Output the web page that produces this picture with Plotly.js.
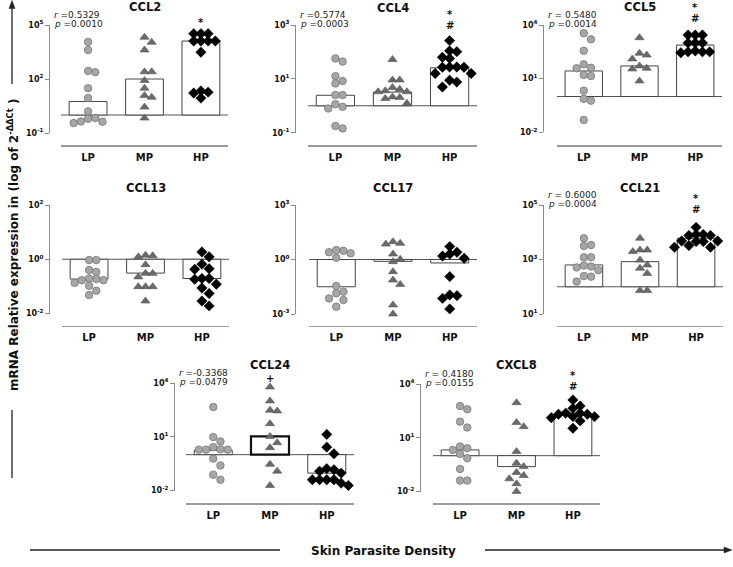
<!DOCTYPE html>
<html><head><meta charset="utf-8">
<script src="https://cdn.plot.ly/plotly-3.0.1.min.js"></script>
<style>html,body{margin:0;padding:0;background:#fff}#chart{width:733px;height:567px}</style>
</head><body><div id="chart"></div>
<script>
// ---------- DATA (log10 of relative expression 2^-ΔΔCt) ----------
const groups = ['LP', 'MP', 'HP'];

const ccl2_LP = [4.06, 3.61, 2.38, 2.45, 1.49, 0.94, 0.20, -0.36, -0.17, -0.45, -0.21, -0.37];
const ccl2_MP = [4.32, 4.04, 3.61, 2.40, 2.40, 1.92, 1.49, 0.99, 1.08, 0.44, -0.17];
const ccl2_HP = [4.52, 4.52, 4.52, 4.11, 4.11, 4.11, 4.11, 3.49, 1.22, 0.94, 1.27, 1.34];
const ccl2_bar = [0.75, 2.0, 4.11];

const ccl4_LP = [1.76, 1.64, 1.10, 0.92, 0.83, 0.40, 0.40, -0.04, -0.10, 0.06, -0.84, -0.75];
const ccl4_MP = [1.72, 0.96, 0.96, 0.61, 0.56, 0.52, 0.52, 0.68, 0.31, 0.33, 0.27, 0.09];
const ccl4_HP = [2.42, 2.04, 2.01, 1.80, 1.76, 1.44, 1.44, 1.43, 1.43, 1.20, 1.20, 0.95, 0.88, 0.70];
const ccl4_bar = [0.39, 0.51, 1.41];

const ccl5_LP = [3.54, 3.20, 2.56, 1.80, 1.58, 1.61, 1.21, 1.15, 0.33, -0.13, -0.23, -1.31];
const ccl5_MP = [3.29, 2.42, 2.32, 2.10, 1.71, 1.54, 1.58, 0.87];
const ccl5_HP = [3.44, 3.44, 3.44, 3.00, 3.00, 3.00, 2.55, 2.50, 2.50, 2.50, 2.45];
const ccl5_bar = [1.43, 1.71, 2.88];

const ccl13_LP = [-0.03, -0.03, -0.47, -0.40, -0.77, -0.87, -0.71, -0.77, -0.73, -0.98, -1.16, -1.32];
const ccl13_MP = [0.15, 0.09, 0.13, -0.20, -0.52, -0.65, -0.52, -1.01, -1.01, -1.01, -1.54];
const ccl13_HP = [0.27, 0.09, -0.18, -0.35, -0.37, -0.71, -0.74, -0.71, -1.06, -0.92, -1.26, -1.72, -1.54];
const ccl13_bar = [-0.73, -0.51, -0.71];

const ccl17_LP = [0.48, 0.34, 0.52, 0.40, 0.10, -1.46, -1.86, -1.77, -2.14, -2.23, -2.60];
const ccl17_MP = [0.98, 0.85, 0.89, 0.30, -0.12, 0.01, -0.67, -1.13, -1.37, -2.50, -3.00];
const ccl17_HP = [0.71, 0.40, 0.19, 0.07, 0.30, -0.94, -1.99, -2.14, -1.95, -2.72];
const ccl17_bar = [-1.50, -0.10, -0.19];

const ccl21_LP = [3.78, 3.53, 3.50, 3.08, 3.08, 2.78, 2.71, 2.61, 2.74, 2.37, 2.39, 2.19];
const ccl21_MP = [3.78, 3.35, 3.29, 3.35, 2.98, 2.80, 2.68, 2.49, 1.86, 1.86];
const ccl21_HP = [4.18, 3.92, 3.88, 3.88, 3.92, 3.66, 3.68, 3.68, 3.66, 3.45, 3.45, 3.51];
const ccl21_bar = [2.80, 2.92, 3.78];

const ccl24_LP = [2.66, 0.98, 0.74, 0.42, 0.28, 0.28, 0.28, 0.30, -0.22, -0.60, -1.12, -1.40];
const ccl24_MP = [3.78, 3.00, 2.48, 2.44, 1.73, 1.02, 0.39, 0.67, -0.54, -0.92, -1.72];
const ccl24_HP = [1.13, 0.42, 0.05, -0.78, -0.92, -1.03, -0.84, -1.40, -1.40, -1.40, -1.40, -1.72, -1.59];
const ccl24_bar = [0.24, 1.02, -1.03];

const cxcl8_LP = [2.77, 2.59, 1.90, 1.57, 0.51, 0.42, 0.32, 0.10, -0.14, -0.74, -1.39, -1.39];
const cxcl8_MP = [2.96, 1.85, 1.62, 0.23, -0.42, -0.61, -0.94, -1.11, -1.29, -1.57, -2.00];
const cxcl8_HP = [3.11, 2.77, 2.64, 2.37, 2.31, 2.31, 2.37, 2.18, 2.12, 2.18, 1.94, 1.53];
const cxcl8_bar = [0.32, -0.61, 2.27];

// tick exponents (low, mid, high) per gene
const ticks_ccl2 = [-1, 2, 5], ticks_ccl4 = [-1, 1, 3], ticks_ccl5 = [-2, 1, 4], ticks_ccl13 = [-2, 0, 2];
const ticks_ccl17 = [-3, 0, 3], ticks_ccl21 = [1, 3, 5], ticks_ccl24 = [-2, 1, 4], ticks_cxcl8 = [-2, 1, 4];

// ---------- PANELS ----------
const panels = [
  {name:'CCL2',  LP:ccl2_LP,  MP:ccl2_MP,  HP:ccl2_HP,  bar:ccl2_bar,  base:0, t:ticks_ccl2,  r:'=0.5329', p:'=0.0010', marks:{g:2, m:['*']},
   L:{ax:49, yt:25, yb:133, xl:145, x0:61, x1:228, title:7, mk:[19]}},
  {name:'CCL4',  LP:ccl4_LP,  MP:ccl4_MP,  HP:ccl4_HP,  bar:ccl4_bar,  base:0, t:ticks_ccl4,  r:'=0.5774', p:'=0.0003', marks:{g:2, m:['*','#']},
   L:{ax:295, yt:25, yb:132.7, xl:145, x0:308, x1:477, title:8, mk:[11,24]}},
  {name:'CCL5',  LP:ccl5_LP,  MP:ccl5_MP,  HP:ccl5_HP,  bar:ccl5_bar,  base:0, t:ticks_ccl5,  r:'= 0.5480', p:'=0.0014', marks:{g:2, m:['*','#']},
   L:{ax:543, yt:25, yb:132.3, xl:145, x0:557, x1:722, title:7, mk:[4,17]}},
  {name:'CCL13', LP:ccl13_LP, MP:ccl13_MP, HP:ccl13_HP, bar:ccl13_bar, base:0, t:ticks_ccl13, r:null, p:null, marks:null,
   L:{ax:49, yt:205, yb:313.5, xl:325.7, x0:62, x1:229, title:188}},
  {name:'CCL17', LP:ccl17_LP, MP:ccl17_MP, HP:ccl17_HP, bar:ccl17_bar, base:0, t:ticks_ccl17, r:null, p:null, marks:null,
   L:{ax:295, yt:205, yb:314, xl:325.7, x0:309, x1:477, title:188}},
  {name:'CCL21', LP:ccl21_LP, MP:ccl21_MP, HP:ccl21_HP, bar:ccl21_bar, base:2, t:ticks_ccl21, r:'= 0.6000', p:'=0.0004', marks:{g:2, m:['*','#']},
   L:{ax:543, yt:205, yb:314, xl:325.7, x0:557, x1:723, title:188, mk:[195,208]}},
  {name:'CCL24', LP:ccl24_LP, MP:ccl24_MP, HP:ccl24_HP, bar:ccl24_bar, base:0, t:ticks_ccl24, r:'=-0.3368', p:'=0.0479', marks:{g:1, m:['+']}, thick:1,
   L:{ax:174, yt:383, yb:490.5, xl:503, x0:186, x1:354, title:365, mk:[377]}},
  {name:'CXCL8', LP:cxcl8_LP, MP:cxcl8_MP, HP:cxcl8_HP, bar:cxcl8_bar, base:0, t:ticks_cxcl8, r:'= 0.4180', p:'=0.0155', marks:{g:2, m:['*','#']},
   L:{ax:420, yt:384, yb:491.5, xl:503, x0:433, x1:600, title:365, mk:[372,385]}}
];

const W = 733, H = 567;
const px = x => x / W, py = y => 1 - y / H;
const F = 'DejaVu Sans, Verdana, sans-serif';
const XR = [-0.48, 2.48];
const D = 7.2; // marker spacing in px

function swarm(vals, cat, pyu, pxu) {
  const order = vals.map((v, i) => i).sort((a, b) => vals[b] - vals[a]);
  const placed = [], xs = new Array(vals.length);
  for (const i of order) {
    const yp = vals[i] * pyu;
    for (let k = 0; k < 30; k++) {
      const off = k === 0 ? 0 : (k % 2 === 1 ? Math.ceil(k / 2) : -Math.ceil(k / 2));
      const xp = off * D;
      if (placed.every(q => Math.hypot(q[0] - xp, q[1] - yp) >= D * 0.97)) {
        placed.push([xp, yp]); xs[i] = cat + xp / pxu; break;
      }
    }
  }
  return xs;
}

const traces = [], shapes = [], annotations = [];
const layout = {width: W, height: H, margin: {l: 0, r: 0, t: 0, b: 0}, showlegend: false,
  paper_bgcolor: '#fff', plot_bgcolor: 'rgba(0,0,0,0)', font: {family: F, color: '#111'}};

const markerStyles = {
  LP: {symbol: 'circle', size: 7.5, color: '#a6a6a6', line: {color: '#777', width: 0.8}},
  MP: {symbol: 'triangle-up', size: 8, color: '#6a6a6a', line: {color: '#555', width: 0.6}},
  HP: {symbol: 'diamond', size: 8, color: '#000', line: {color: '#000', width: 0.5}}
};

panels.forEach((p, i) => {
  const k = i + 1, sfx = k > 1 ? k : '';
  const xr = 'x' + sfx, yr = 'y' + sfx;
  const L = p.L;
  const lo = p.t[0], mid = p.t[1], hi = p.t[2];
  layout['xaxis' + sfx] = {domain: [px(L.x0), px(L.x1)], anchor: 'free', position: py(L.xl), range: XR,
    tickvals: [0, 1, 2], ticktext: groups, showline: true, linecolor: '#9a9a9a', linewidth: 1.6, ticks: '',
    showgrid: false, zeroline: false, fixedrange: true, ticklabelstandoff: 2,
    tickfont: {family: F, size: 10, weight: 'bold', color: '#111'}};
  layout['yaxis' + sfx] = {domain: [py(L.yb), py(L.yt)], anchor: 'free', position: px(L.ax), range: [lo, hi],
    tickvals: [lo, mid, hi], ticktext: p.t.map(e => '10<sup>' + e + '</sup>'),
    showline: true, linecolor: '#8a8a8a', linewidth: 1, ticks: 'outside', ticklen: 4, tickcolor: '#8a8a8a', tickwidth: 1,
    showgrid: false, zeroline: false, fixedrange: true,
    tickfont: {family: F, size: 8, weight: 'bold', color: '#111'}};

  const pyu = (L.yb - L.yt) / (hi - lo);
  const pxu = (L.x1 - L.x0) / (XR[1] - XR[0]);

  // baseline
  shapes.push({type: 'line', xref: xr + ' domain', yref: yr, x0: 0, x1: 1, y0: p.base, y1: p.base,
    line: {color: '#555', width: 1}, layer: 'below'});

  // bars
  traces.push({type: 'bar', x: [0, 1, 2], y: p.bar.map(v => v - p.base), base: p.base, width: 0.67,
    xaxis: xr, yaxis: yr, hoverinfo: 'skip',
    marker: {color: '#fff', line: {color: p.thick ? ['#444', '#111', '#444'] : '#444', width: p.thick ? [1, 2.2, 1] : 1}}});

  // points
  groups.forEach((g, gi) => {
    const vals = p[g];
    traces.push({type: 'scatter', mode: 'markers', x: swarm(vals, gi, pyu, pxu), y: vals,
      xaxis: xr, yaxis: yr, cliponaxis: false, hoverinfo: 'skip', marker: markerStyles[g]});
  });

  // title
  annotations.push({xref: xr, yref: 'paper', x: 1, y: py(L.title), text: '<b>' + p.name + '</b>', showarrow: false,
    xanchor: 'center', yanchor: 'middle', font: {family: F, size: 11.5, color: '#111'}});

  // stats
  if (p.r) {
    const top = L.yt;
    annotations.push({xref: 'paper', yref: 'paper', x: px(L.ax + 3), y: py(top - 10), text: '<i>r</i> ' + p.r,
      showarrow: false, xanchor: 'left', yanchor: 'middle', font: {family: F, size: 9, color: '#222'}});
    annotations.push({xref: 'paper', yref: 'paper', x: px(L.ax + 3), y: py(top - 1), text: '<i>p</i> ' + p.p,
      showarrow: false, xanchor: 'left', yanchor: 'middle', font: {family: F, size: 9, color: '#222'}});
  }
  // significance marks
  if (p.marks) {
    p.marks.m.forEach((m, mi) => {
      const yy = L.mk[mi] + (m === '*' ? 3 : (m === '#' ? 1.5 : 1));
      annotations.push({xref: xr, yref: 'paper', x: p.marks.g, y: py(yy), text: '<b>' + m + '</b>', showarrow: false,
        xanchor: 'center', yanchor: 'middle', font: {family: F, size: 10, color: '#111'}});
    });
  }
});

// global y title
annotations.push({xref: 'paper', yref: 'paper', x: px(13), y: py(245), textangle: -90, showarrow: false,
  text: '<b>mRNA Relative expression in (log of 2<sup>-ΔΔCt</sup> )</b>', xanchor: 'center', yanchor: 'middle',
  font: {family: F, size: 12, color: '#111'}});
// global x title
annotations.push({xref: 'paper', yref: 'paper', x: px(383), y: py(551), showarrow: false,
  text: '<b>Skin Parasite Density</b>', xanchor: 'center', yanchor: 'middle', font: {family: F, size: 12, color: '#111'}});

const P = (x, y) => px(x) + ',' + py(y);
const lineCol = '#222';
shapes.push({type: 'line', xref: 'paper', yref: 'paper', x0: px(12), x1: px(12), y0: py(84), y1: py(6), line: {color: lineCol, width: 1.3}});
shapes.push({type: 'path', xref: 'paper', yref: 'paper', path: 'M' + P(12, 0.5) + 'L' + P(9, 8.5) + 'L' + P(15, 8.5) + 'Z',
  fillcolor: lineCol, line: {color: lineCol, width: 0.5}});
shapes.push({type: 'line', xref: 'paper', yref: 'paper', x0: px(12), x1: px(12), y0: py(410), y1: py(478), line: {color: lineCol, width: 1.3}});
shapes.push({type: 'line', xref: 'paper', yref: 'paper', x0: px(30), x1: px(280), y0: py(550), y1: py(550), line: {color: lineCol, width: 1.3}});
shapes.push({type: 'line', xref: 'paper', yref: 'paper', x0: px(485), x1: px(726), y0: py(550), y1: py(550), line: {color: lineCol, width: 1.3}});
shapes.push({type: 'path', xref: 'paper', yref: 'paper', path: 'M' + P(732, 550) + 'L' + P(724, 547) + 'L' + P(724, 553) + 'Z',
  fillcolor: lineCol, line: {color: lineCol, width: 0.5}});

layout.shapes = shapes;
layout.annotations = annotations;

Plotly.newPlot('chart', traces, layout, {staticPlot: true, displayModeBar: false});
</script>
</body></html>
